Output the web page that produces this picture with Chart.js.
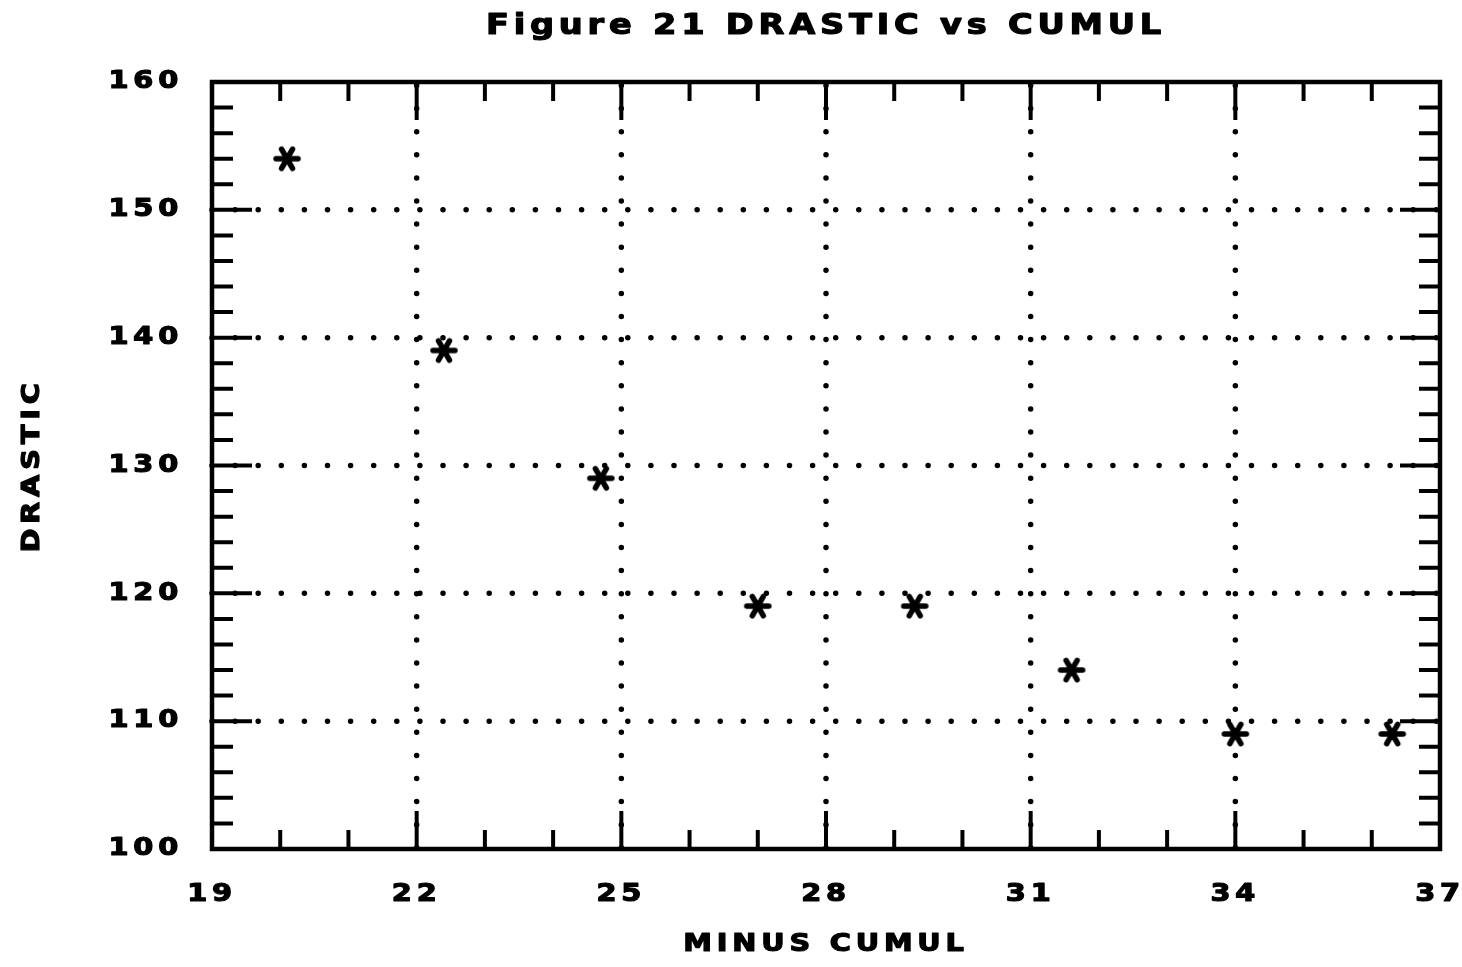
<!DOCTYPE html>
<html>
<head>
<meta charset="utf-8">
<script src="https://cdn.jsdelivr.net/npm/chart.js@4/dist/chart.umd.min.js"></script>
<style>
  html, body { margin: 0; padding: 0; background: #ffffff; }
  canvas { display: block; }
</style>
</head>
<body>
<canvas id="chart" width="1462" height="967"></canvas>
<script>
// Observations: MINUS CUMUL against DRASTIC
const cumul   = [20.1, 22.4, 24.7, 27.0, 29.3, 31.6, 34.0, 36.3];
const drastic = [154, 139, 129, 119, 119, 114, 109, 109];

// Axis ticks (labelled) and the short unlabelled minor ticks
const xTicks = [19, 22, 25, 28, 31, 34, 37];
const yTicks = [100, 110, 120, 130, 140, 150, 160];
const xMinor = [20, 21, 23, 24, 26, 27, 29, 30, 32, 33, 35, 36];
const yMinor = [102, 104, 106, 108, 112, 114, 116, 118, 122, 124, 126, 128,
                132, 134, 136, 138, 142, 144, 146, 148, 152, 154, 156, 158];

const titleText = 'Figure 21 DRASTIC vs CUMUL';
const xTitle = 'MINUS CUMUL';
const yTitle = 'DRASTIC';

const INK = '#000000';
const FONT = { family: '"DejaVu Sans", sans-serif', weight: 'bold', size: 24 };
const TITLE_FONT = { family: '"DejaVu Sans", sans-serif', weight: 'bold', size: 28 };
const SPACING = '4px';
const WIDEN = 1.2;   // plotter lettering is broader than any installed face

// Six-armed asterisk used as the point marker
function asterisk(r, w) {
  const c = document.createElement('canvas');
  const s = Math.ceil(2 * r + w + 2);
  c.width = s; c.height = s;
  const g = c.getContext('2d');
  g.strokeStyle = INK;
  g.lineWidth = w;
  g.lineCap = 'round';
  const m = s / 2;
  [0, 60, 120].forEach(deg => {
    const t = deg * Math.PI / 180;
    g.beginPath();
    g.moveTo(m - r * Math.cos(t), m - r * Math.sin(t));
    g.lineTo(m + r * Math.cos(t), m + r * Math.sin(t));
    g.stroke();
  });
  return c;
}

// Broad, heavy, widely spaced lettering for all canvas text
const plotterLettering = {
  id: 'plotterLettering',
  beforeInit(chart) {
    const ctx = chart.ctx;
    const fill = ctx.fillText;
    ctx.fillText = function (text, x, y) {
      this.save();
      this.translate(x, y);
      this.scale(WIDEN, 1);
      fill.call(this, text, 0, 0);
      this.lineWidth = 1.2;
      this.lineJoin = 'round';
      this.strokeStyle = this.fillStyle;
      this.strokeText(text, 0, 0);
      this.restore();
    };
  },
  beforeUpdate(chart) { chart.ctx.letterSpacing = SPACING; },
  beforeDraw(chart) { chart.ctx.letterSpacing = SPACING; }
};

// Dotted grid, heavy frame and inward tick marks
const plotterFrame = {
  id: 'plotterFrame',
  beforeDatasetsDraw(chart) {
    const { ctx, chartArea: a, scales: { x, y } } = chart;
    ctx.save();
    ctx.strokeStyle = INK;

    // dotted grid lines
    ctx.lineWidth = 5.5;
    ctx.lineCap = 'round';
    ctx.setLineDash([0, 23.1]);
    xTicks.slice(1, -1).forEach(v => {
      const px = x.getPixelForValue(v);
      ctx.lineDashOffset = -3.5;
      ctx.beginPath(); ctx.moveTo(px, a.top); ctx.lineTo(px, a.bottom); ctx.stroke();
    });
    yTicks.slice(1, -1).forEach(v => {
      const py = y.getPixelForValue(v);
      ctx.lineDashOffset = 0;
      ctx.beginPath(); ctx.moveTo(a.left, py); ctx.lineTo(a.right, py); ctx.stroke();
    });

    // tick marks pointing into the plot
    ctx.setLineDash([]);
    ctx.lineCap = 'butt';
    ctx.lineWidth = 4;
    const vTick = (v, len) => {
      const px = x.getPixelForValue(v);
      ctx.beginPath();
      ctx.moveTo(px, a.bottom); ctx.lineTo(px, a.bottom - len);
      ctx.moveTo(px, a.top); ctx.lineTo(px, a.top + len);
      ctx.stroke();
    };
    const hTick = (v, len) => {
      const py = y.getPixelForValue(v);
      ctx.beginPath();
      ctx.moveTo(a.left, py); ctx.lineTo(a.left + len, py);
      ctx.moveTo(a.right, py); ctx.lineTo(a.right - len, py);
      ctx.stroke();
    };
    xTicks.forEach(v => vTick(v, 38));
    xMinor.forEach(v => vTick(v, 19));
    yTicks.forEach(v => hTick(v, 40));
    yMinor.forEach(v => hTick(v, 21));

    // frame
    ctx.lineWidth = 4.5;
    ctx.lineJoin = 'miter';
    ctx.strokeRect(a.left, a.top, a.right - a.left, a.bottom - a.top);
    ctx.restore();
  }
};

new Chart(document.getElementById('chart'), {
  type: 'scatter',
  data: {
    datasets: [{
      label: 'DRASTIC',
      data: cumul.map((c, i) => ({ x: c, y: drastic[i] })),
      pointStyle: asterisk(11, 5.5),
      pointRadius: 12,
      pointHoverRadius: 12,
      borderColor: INK,
      backgroundColor: INK
    }]
  },
  options: {
    responsive: false,
    animation: false,
    devicePixelRatio: 1,
    layout: { padding: { left: 0, right: 22, top: 0, bottom: 0 } },
    plugins: {
      legend: { display: false },
      tooltip: { enabled: false },
      title: {
        display: true,
        text: titleText,
        color: INK,
        font: TITLE_FONT,
        fullSize: false,
        padding: { top: 10.2, bottom: 38.2 }
      }
    },
    scales: {
      x: {
        type: 'linear',
        min: 19,
        max: 37,
        grid: { display: false, drawTicks: false },
        border: { display: false },
        afterBuildTicks(s) { s.ticks = xTicks.map(v => ({ value: v })); },
        afterFit(s) { s.height = 118; s.paddingLeft = 0; s.paddingRight = 0; },
        ticks: {
          color: INK,
          font: FONT,
          padding: 31,
          maxRotation: 0,
          autoSkip: false,
          callback: v => String(v)
        },
        title: {
          display: true,
          text: xTitle,
          color: INK,
          font: FONT,
          padding: { top: 0, bottom: 7.6 }
        }
      },
      y: {
        type: 'linear',
        min: 100,
        max: 160,
        grid: { display: false, drawTicks: false },
        border: { display: false },
        afterBuildTicks(s) { s.ticks = yTicks.map(v => ({ value: v })); },
        afterFit(s) { s.width = 212; s.paddingTop = 0; s.paddingBottom = 0; },
        ticks: {
          color: INK,
          font: FONT,
          padding: 29,
          autoSkip: false,
          callback: v => String(v)
        },
        title: {
          display: true,
          text: yTitle,
          color: INK,
          font: FONT,
          padding: { top: 18.6, bottom: 0 }
        }
      }
    }
  },
  plugins: [plotterLettering, plotterFrame]
});
</script>
</body>
</html>
